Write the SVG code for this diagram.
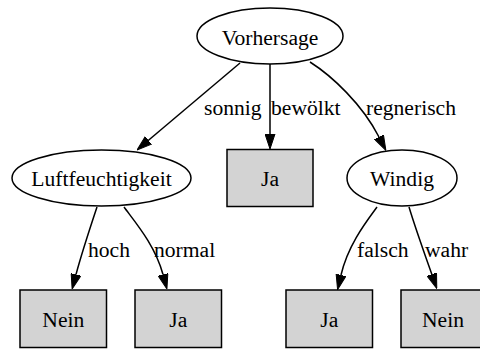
<svg xmlns="http://www.w3.org/2000/svg" width="480" height="350" viewBox="0 0 480 350">
  <style>
    .node ellipse { fill: #ffffff; stroke: #000000; stroke-width: 1.5; }
    .node rect { fill: #d3d3d3; stroke: #000000; stroke-width: 1.5; }
    .lbl { font-family: "Liberation Serif", "Times New Roman", serif; font-size: 21.6px; fill: #000000; }
    .node .lbl { text-anchor: middle; }
    .edge path { fill: none; stroke: #000000; stroke-width: 1.5; marker-end: url(#arrow); }
  </style>
  <defs>
    <marker id="arrow" viewBox="0 0 15 11" refX="0" refY="5.5" markerWidth="15" markerHeight="11" markerUnits="userSpaceOnUse" orient="auto">
      <path d="M0,0.5 L15,5.5 L0,10.5 Z" fill="#000000" stroke="#000000" stroke-width="1"/>
    </marker>
  </defs>
  <rect width="480" height="350" fill="#ffffff"/>

  <!-- connectors -->
  <g id="edges" class="edge" font-family="Liberation Serif, serif" font-size="21.6">
    <path d="M240,63 L148.5,140.3"/>
    <path d="M270,64 L270,134"/>
    <path d="M310,62 C332,76 362,104 379,137"/>
    <path d="M97,207 C91,225 82,252 76,274.5"/>
    <path d="M124,207 C135,222 155,245 163,274.5"/>
    <path d="M377,207 C366,222 348,245 341,275"/>
    <path d="M409,207 C415,227 425,255 431.8,274.3"/>
    <text class="lbl" x="204" y="115">sonnig</text>
    <text class="lbl" x="271" y="115">bewölkt</text>
    <text class="lbl" x="366" y="115">regnerisch</text>
    <text class="lbl" x="88" y="257">hoch</text>
    <text class="lbl" x="154" y="257">normal</text>
    <text class="lbl" x="357" y="257">falsch</text>
    <text class="lbl" x="425" y="257">wahr</text>
  </g>

  <!-- nodes -->
  <g id="vorhersage" class="node" font-family="Liberation Serif, serif" font-size="21.6">
    <ellipse cx="270" cy="36" rx="73" ry="28"/>
    <text class="lbl" x="270" y="44.5">Vorhersage</text>
  </g>
  <g id="luftfeuchtigkeit" class="node" font-family="Liberation Serif, serif" font-size="21.6">
    <ellipse cx="101.5" cy="178" rx="89.5" ry="28"/>
    <text class="lbl" x="101.5" y="185.5">Luftfeuchtigkeit</text>
  </g>
  <g id="ja_bewoelkt" class="node" font-family="Liberation Serif, serif" font-size="21.6">
    <rect x="227" y="149.5" width="86" height="57"/>
    <text class="lbl" x="270" y="185.5">Ja</text>
  </g>
  <g id="windig" class="node" font-family="Liberation Serif, serif" font-size="21.6">
    <ellipse cx="402" cy="178" rx="55" ry="28"/>
    <text class="lbl" x="402" y="185.5">Windig</text>
  </g>
  <g id="nein_hoch" class="node" font-family="Liberation Serif, serif" font-size="21.6">
    <rect x="20" y="290" width="86.5" height="57.5"/>
    <text class="lbl" x="63.3" y="326.5">Nein</text>
  </g>
  <g id="ja_normal" class="node" font-family="Liberation Serif, serif" font-size="21.6">
    <rect x="135" y="290" width="86.5" height="57.5"/>
    <text class="lbl" x="178.3" y="326.5">Ja</text>
  </g>
  <g id="ja_falsch" class="node" font-family="Liberation Serif, serif" font-size="21.6">
    <rect x="286" y="290" width="86.5" height="57.5"/>
    <text class="lbl" x="329.3" y="326.5">Ja</text>
  </g>
  <g id="nein_wahr" class="node" font-family="Liberation Serif, serif" font-size="21.6">
    <rect x="401" y="290" width="86.5" height="57.5"/>
    <text class="lbl" x="443" y="326.5">Nein</text>
  </g>
</svg>
